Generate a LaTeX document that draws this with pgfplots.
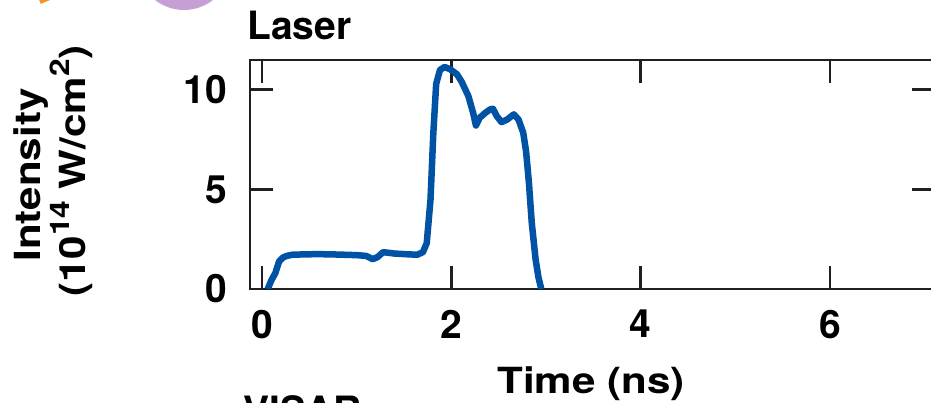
\documentclass[border=0pt]{standalone}
\usepackage{pgfplots}
\pgfplotsset{compat=1.18}
\usepackage{fontspec}
\setmainfont{TeX Gyre Heros}

\definecolor{pulseblue}{HTML}{0052A5}
\definecolor{axisdark}{HTML}{231F20}
\definecolor{lavender}{HTML}{C6A0D4}
\definecolor{panelorange}{HTML}{F7941D}

% laser pulse intensity history, time in ns, intensity in 1e14 W/cm^2
\pgfplotstableread{
t     I
0.06  0.00
0.10  0.45
0.14  0.79
0.18  1.38
0.22  1.58
0.26  1.66
0.32  1.72
0.45  1.74
0.60  1.75
0.80  1.73
1.00  1.70
1.10  1.66
1.17  1.50
1.22  1.60
1.28  1.85
1.40  1.78
1.55  1.74
1.64  1.72
1.70  1.85
1.74  2.30
1.78  4.48
1.81  7.84
1.84  10.30
1.88  11.00
1.93  11.15
1.99  11.03
2.06  10.78
2.11  10.40
2.18  9.69
2.23  8.85
2.26  8.21
2.30  8.60
2.36  8.85
2.41  9.02
2.44  9.05
2.48  8.68
2.53  8.38
2.59  8.51
2.66  8.77
2.71  8.51
2.76  7.84
2.79  6.90
2.82  5.32
2.85  3.31
2.89  1.50
2.92  0.60
2.95  0.00
}\laserpulse

\newcommand{\labfont}{\fontsize{36}{42}\selectfont\bfseries}
\newcommand{\tickfont}{\fontsize{39}{44}\selectfont\bfseries}
\newcommand{\unitsup}[1]{\raisebox{0.42em}{\fontsize{27}{30}\selectfont #1}}

\begin{document}
\begin{tikzpicture}[x=1pt,y=1pt]
% neighbouring panel pieces
\fill[lavender] (184,440) circle (47);
\draw[panelorange, line width=4pt] (40,401) -- (52,406);

\begin{axis}[
  at={(250pt,114pt)}, anchor=south west,
  scale only axis, width=685pt, height=229pt,
  xmin=-0.127, xmax=7.11, ymin=0, ymax=11.5,
  xtick={0,2,4,6}, ytick={0,5,10},
  tick align=inside, major tick length=23pt,
  axis line style={line width=2.8pt, draw=axisdark},
  major tick style={line width=2.8pt, draw=axisdark},
  tick label style={font=\tickfont},
  /pgf/number format/assume math mode=true,
  xticklabel style={anchor=north, inner sep=0pt, yshift=-21pt},
  yticklabel style={anchor=east, inner sep=0pt, xshift=-23pt},
]
\addplot[pulseblue, line width=6.5pt, line join=round] table[x=t, y=I] {\laserpulse};
\end{axis}

\node[anchor=base west, inner sep=0pt, font=\tickfont] at (247,363) {Laser};
\node[anchor=base, inner sep=0pt, font=\labfont] at (591,9) {\scalebox{1.17}[1]{Time (ns)}};
\node[anchor=base, inner sep=0pt, rotate=90, font=\labfont] at (40,228) {\scalebox{1.17}[1]{Intensity}};
\node[anchor=base, inner sep=0pt, rotate=90, font=\labfont] at (85,232) {\scalebox{1.17}[1]{(10\unitsup{14} W/cm\unitsup{2})}};
\node[anchor=base west, inner sep=0pt, font=\tickfont] at (243,-22) {VISAR};

\pgfresetboundingbox
\useasboundingbox (0,0) rectangle (931,403);
\end{tikzpicture}
\end{document}
